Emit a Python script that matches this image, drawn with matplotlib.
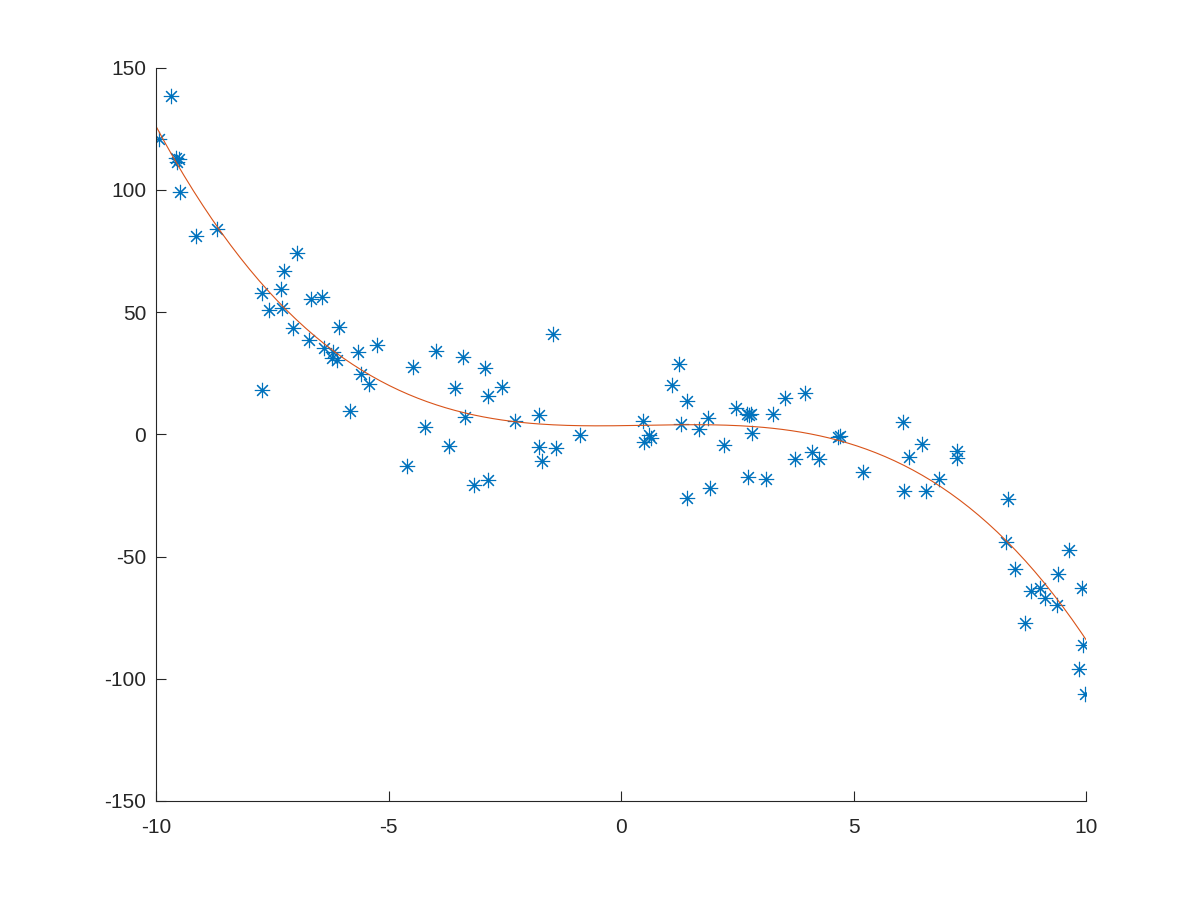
import numpy as np
import matplotlib
matplotlib.use("Agg")
import matplotlib.pyplot as plt

# scatter points
x_data = [-9.93, -9.68, -9.57, -9.50, -9.55, -9.48, -9.14, -8.69, -6.97, -7.24,
          -7.31, -7.72, -6.67, -6.43, -7.56, -7.29, -7.05, -6.06, -6.70, -5.25,
          -6.39, -5.66, -6.20, -6.22, -6.11, -5.59, -5.43, -7.73, -5.83,
          -3.97, -4.48, -3.40, -2.92, -1.46, -3.57, -2.87, -2.55, -3.35, -2.29,
          -1.76, -4.21, -3.69, -1.76, -1.40, -1.69, -0.88, -4.61, -3.17, -2.87,
          1.25, 1.09, 1.43, 0.47, 1.28, 1.87, 1.67, 2.47, 2.70, 2.80,
          2.75, 2.82, 3.26, 3.52, 3.96, 0.61, 0.65, 0.50, 2.22, 3.74,
          4.11, 4.26, 4.66, 4.71, 5.20, 2.74, 3.11, 1.91, 1.43,
          6.07, 6.48, 6.19, 7.23, 7.22, 6.84, 6.09, 6.55, 8.32,
          8.29, 9.64, 8.47, 9.40, 9.91, 8.81, 9.01, 9.12, 9.38, 8.69,
          9.93, 9.84, 9.98]
y_data = [120.8, 138.2, 113.0, 112.5, 111.4, 99.0, 81.0, 84.1, 74.2, 66.6,
          59.4, 57.8, 55.3, 56.0, 50.8, 51.7, 43.3, 44.0, 38.7, 36.6,
          35.3, 33.8, 33.5, 31.0, 30.4, 24.6, 20.5, 18.2, 9.6,
          34.2, 27.6, 31.4, 27.2, 41.1, 18.9, 15.8, 19.4, 7.2, 5.3,
          8.0, 3.1, -5.0, -5.4, -5.8, -11.1, -0.3, -12.8, -20.7, -18.6,
          28.9, 20.1, 13.7, 5.4, 4.0, 6.6, 2.3, 10.8, 8.1, 8.3,
          7.9, 0.5, 8.3, 14.8, 16.9, -0.2, -1.6, -3.2, -4.3, -10.0,
          -7.2, -10.0, -1.0, -0.7, -15.6, -17.3, -18.1, -21.8, -25.9,
          5.0, -3.9, -9.2, -7.0, -9.7, -18.1, -23.1, -23.3, -26.3,
          -44.1, -47.4, -55.1, -57.2, -62.8, -64.3, -63.0, -66.9, -69.9, -77.3,
          -86.0, -95.9, -106.1]

x_ticks = [-10, -5, 0, 5, 10]
y_ticks = [-150, -100, -50, 0, 50, 100, 150]

# cubic fit drawn over the points
coef = np.polyfit(x_data, y_data, 3)
xf = np.linspace(-10, 10, 200)
yf = np.polyval(coef, xf)

plt.rcParams['font.family'] = ['Liberation Sans', 'DejaVu Sans']
plt.rcParams['axes.unicode_minus'] = False

fig = plt.figure(figsize=(12, 9), dpi=100)
ax = fig.add_axes([0.13, 0.11, 0.775, 0.815])

ax.plot(x_data, y_data, linestyle='none', marker=(8, 2, 0), markersize=11,
        markeredgewidth=0.8, color='#0072BD')
ax.plot(xf, yf, color='#D95319', linewidth=0.8)

ax.set_xlim(-10, 10)
ax.set_ylim(-150, 150)
ax.set_xticks(x_ticks)
ax.set_yticks(y_ticks)
ax.spines['top'].set_visible(False)
ax.spines['right'].set_visible(False)
ax.tick_params(direction='in', length=7, width=0.8, labelsize=15,
               colors='#262626')
ax.tick_params(axis='y', pad=7)
ax.tick_params(axis='x', pad=12)
for s in ['left', 'bottom']:
    ax.spines[s].set_color('#262626')
    ax.spines[s].set_linewidth(0.8)

fig.savefig('out.png', dpi=100)
